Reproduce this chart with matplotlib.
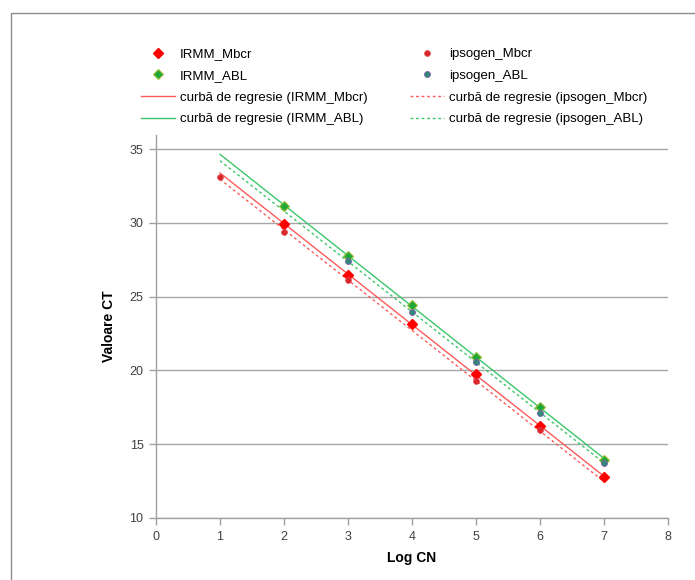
import numpy as np
import matplotlib
matplotlib.use("Agg")
import matplotlib.pyplot as plt
from matplotlib.patches import Rectangle

plt.rcParams['font.family'] = ['Liberation Sans', 'DejaVu Sans']

# ---- data ----
irmm_mbcr_x = [2, 3, 4, 5, 6, 7]
irmm_mbcr_y = [29.95, 26.46, 23.14, 19.76, 16.25, 12.78]
irmm_abl_x = [2, 3, 4, 5, 6, 7]
irmm_abl_y = [31.14, 27.75, 24.45, 20.93, 17.54, 13.93]
ips_mbcr_x = [1, 2, 3, 5, 6]
ips_mbcr_y = [33.13, 29.35, 26.10, 19.26, 15.96]
ips_abl_x = [3, 4, 5, 6, 7]
ips_abl_y = [27.39, 23.96, 20.57, 17.11, 13.75]
trend_range = [1, 7]

labels = ["IRMM_Mbcr", "IRMM_ABL", "ipsogen_Mbcr", "ipsogen_ABL"]
trend_labels = ["curbă de regresie (IRMM_Mbcr)", "curbă de regresie (IRMM_ABL)",
                "curbă de regresie (ipsogen_Mbcr)", "curbă de regresie (ipsogen_ABL)"]
x_ticks = [0, 1, 2, 3, 4, 5, 6, 7, 8]
y_ticks = [10, 15, 20, 25, 30, 35]

W, H = 695, 580
fig = plt.figure(figsize=(W / 100, H / 100), dpi=100)
fig.patches.append(Rectangle((11 / W, -0.5), 2.0, 0.5 + 1 - 13 / H, transform=fig.transFigure,
                             fill=False, edgecolor='#8c8c8c', lw=1.0))

ax = fig.add_axes([156 / W, 1 - 518 / H, (668 - 156) / W, (518 - 135) / H])

red = '#ff0000'
green = '#1fa838'
lred = '#ff5a5a'
lgreen = '#3cc66a'

def trend(xs, ys):
    p = np.polyfit(xs, ys, 1)
    xr = np.array(trend_range, dtype=float)
    return xr, np.polyval(p, xr)

h = {}
h['im'], = ax.plot(irmm_mbcr_x, irmm_mbcr_y, ls='none', marker='D', ms=5.5, color=red,
                   mec=red, label=labels[0], zorder=4)
h['ia'], = ax.plot(irmm_abl_x, irmm_abl_y, ls='none', marker='D', ms=5.5, color=green,
                   mec='#9bbf3a', mew=0.8, label=labels[1], zorder=4)
h['pm'], = ax.plot(ips_mbcr_x, ips_mbcr_y, ls='none', marker='o', ms=4.2, color='#d8262c',
                   mec='#e04848', mew=0.5, label=labels[2], zorder=5)
h['pa'], = ax.plot(ips_abl_x, ips_abl_y, ls='none', marker='o', ms=4.2, color='#2f8a74',
                   mec='#7a62b0', mew=0.7, label=labels[3], zorder=5)

xr, yr = trend(irmm_mbcr_x, irmm_mbcr_y)
h['tim'], = ax.plot(xr, yr, color=lred, lw=1.0, label=trend_labels[0], zorder=3)
xr, yr = trend(irmm_abl_x, irmm_abl_y)
h['tia'], = ax.plot(xr, yr, color=lgreen, lw=1.0, label=trend_labels[1], zorder=3)
xr, yr = trend(ips_mbcr_x, ips_mbcr_y)
h['tpm'], = ax.plot(xr, yr, color=lred, lw=1.0, ls=(0, (2, 2)), label=trend_labels[2], zorder=3)
xr, yr = trend(ips_abl_x, ips_abl_y)
h['tpa'], = ax.plot(xr, yr, color=lgreen, lw=1.0, ls=(0, (2, 2)), label=trend_labels[3], zorder=3)

ax.set_xlim(0, 8)
ax.set_ylim(10, 35.95)
ax.set_xticks(x_ticks)
ax.set_yticks(y_ticks)
ax.yaxis.grid(True, color='#a6a6a6', lw=1.0)
ax.set_axisbelow(True)
for s in ['top', 'right']:
    ax.spines[s].set_visible(False)
for s in ['left', 'bottom']:
    ax.spines[s].set_color('#a0a0a0')
    ax.spines[s].set_linewidth(1.0)
ax.tick_params(axis='both', colors='#a0a0a0', labelcolor='#404040', labelsize=9,
               length=5, width=1.0, direction='out')
ax.tick_params(axis='x', pad=4)
ax.tick_params(axis='y', pad=4)

ax.set_xlabel('Log CN', fontsize=10, fontweight='bold', labelpad=6)
ax.set_ylabel('Valoare CT', fontsize=10, fontweight='bold', labelpad=10)

handles = [h['im'], h['ia'], h['tim'], h['tia'], h['pm'], h['pa'], h['tpm'], h['tpa']]
leg = fig.legend(handles=handles, labels=[x.get_label() for x in handles], ncol=2,
                 loc='upper left', bbox_to_anchor=(141 / W, 1 - 48 / H),
                 frameon=False, fontsize=9.5, handlelength=2.6, handletextpad=0.35,
                 columnspacing=3.2, labelspacing=0.72, borderaxespad=0, borderpad=0)

fig.savefig('out.png', dpi=100)
